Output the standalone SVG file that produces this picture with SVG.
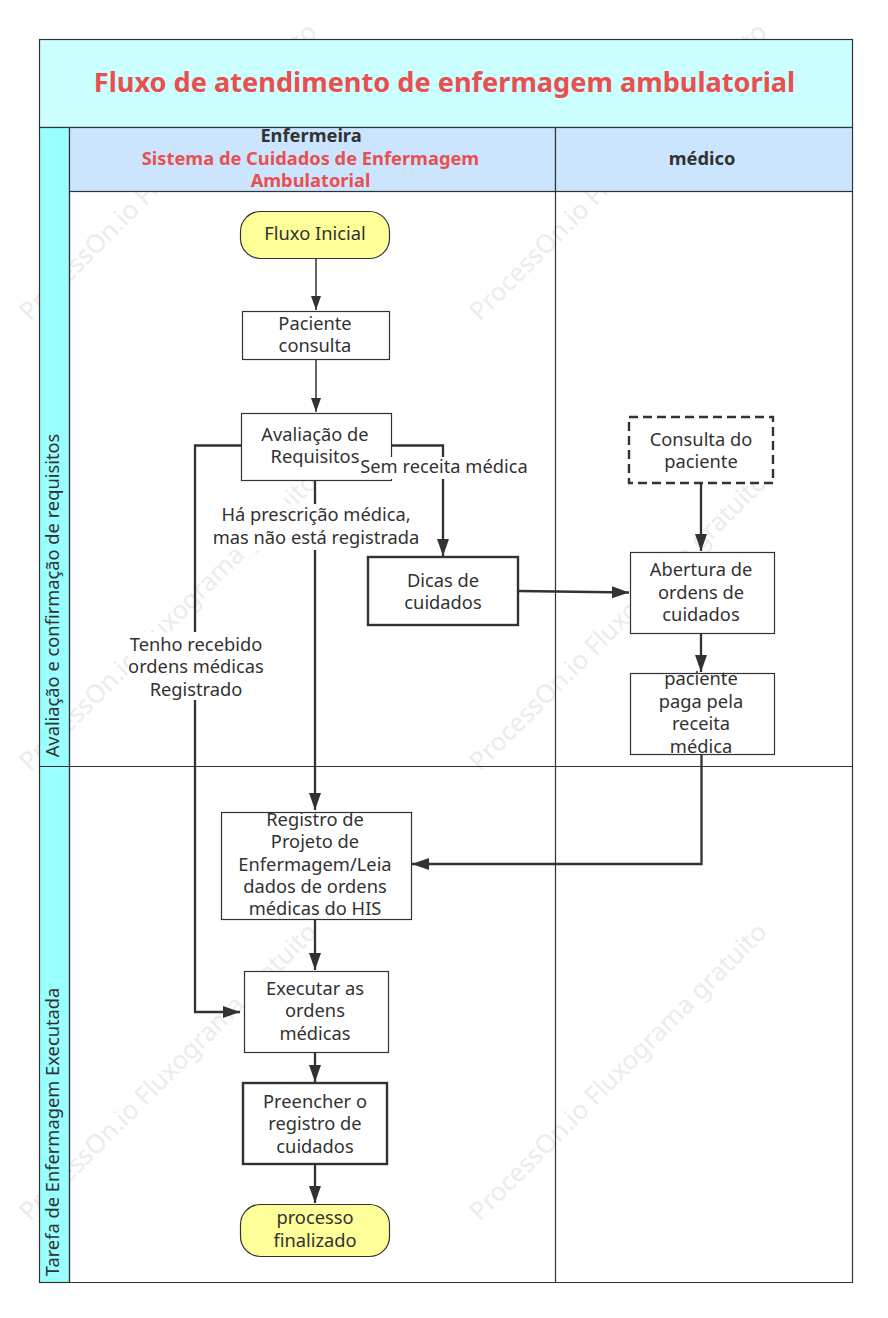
<svg xmlns="http://www.w3.org/2000/svg" width="888" height="1318" viewBox="0 0 888 1318">
<defs>
<marker id="arr" markerUnits="userSpaceOnUse" markerWidth="17" markerHeight="13" refX="17" refY="6.500" orient="auto" viewBox="0 0 17 13"><path d="M0 0.500L17 6.500L0 12.500Z" fill="#323232"/></marker>
<marker id="arrs" markerUnits="userSpaceOnUse" markerWidth="14" markerHeight="11" refX="14" refY="5.500" orient="auto" viewBox="0 0 14 11"><path d="M0 0.500L14 5.500L0 10.500Z" fill="#323232"/></marker>
</defs>
<style>
text{font-family:"Noto Sans","Open Sans","Liberation Sans",sans-serif;font-size:18.300px;fill:#323232;text-anchor:middle}
.wm{font-size:25.500px;fill:#ececec;text-anchor:start}
.lane{fill:none;stroke:#323232;stroke-width:1.200}
.b{fill:#fff;stroke:#323232;stroke-width:1.200}
.bb{fill:#fff;stroke:#323232;stroke-width:2.400}
.t{fill:#ffff99;stroke:#323232;stroke-width:1.200}
.c{fill:none;stroke:#323232;stroke-width:2.300;marker-end:url(#arr)}
.c1{fill:none;stroke:#323232;stroke-width:1.500;marker-end:url(#arrs)}
.lb{fill:#fff}
.h{font-weight:700}
.r{fill:#e94f4f;font-weight:700}
</style>
<g id="watermarks">
<text class="wm" transform="translate(30 322) rotate(-45)">ProcessOn.io Fluxograma gratuito</text>
<text class="wm" transform="translate(480 322) rotate(-45)">ProcessOn.io Fluxograma gratuito</text>
<text class="wm" transform="translate(30 772) rotate(-45)">ProcessOn.io Fluxograma gratuito</text>
<text class="wm" transform="translate(480 772) rotate(-45)">ProcessOn.io Fluxograma gratuito</text>
<text class="wm" transform="translate(30 1222) rotate(-45)">ProcessOn.io Fluxograma gratuito</text>
<text class="wm" transform="translate(480 1222) rotate(-45)">ProcessOn.io Fluxograma gratuito</text>
</g>
<g id="title">
<rect x="39.500" y="39.500" width="813" height="88" fill="#ccffff" stroke="#323232" stroke-width="1.200"/>
<text x="444.500" y="92" class="r" style="font-size:27.150px">Fluxo de atendimento de enfermagem ambulatorial</text>
</g>
<g id="swimlane">
<rect x="39.500" y="127.500" width="30" height="1155" fill="#99ffff" stroke="#323232" stroke-width="1.200"/>
<rect x="69.500" y="127.500" width="486" height="64" fill="#cce5ff" stroke="#323232" stroke-width="1.200"/>
<rect x="555.500" y="127.500" width="297" height="64" fill="#cce5ff" stroke="#323232" stroke-width="1.200"/>
<path class="lane" d="M69.500 191.500V1282.500H852.500V191.500M555.500 191.500V1282.500M39.500 766.500H852.500M39.500 1282.500H69.500"/>
<text x="311" y="142" class="h">Enfermeira</text>
<text x="310.500" y="165" class="r">Sistema de Cuidados de Enfermagem</text>
<text x="310.500" y="187" class="r">Ambulatorial</text>
<text x="702" y="165" class="h">médico</text>
<text transform="translate(59 595.500) rotate(-90)">Avaliação e confirmação de requisitos</text>
<text transform="translate(59 1132) rotate(-90)">Tarefa de Enfermagem Executada</text>
</g>
<g id="connectors">
<path class="c1" d="M316 259V310"/>
<path class="c1" d="M316 360V412"/>
<path class="c" d="M391 445.500H443V556"/>
<path class="c" d="M315 481V810"/>
<path class="c" d="M241 445.500H195V1012H240"/>
<path class="c" d="M519 591L629 592.500"/>
<path class="c" d="M701 484V551"/>
<path class="c" d="M701 634V672"/>
<path class="c" d="M701.500 755V864H412"/>
<path class="c" d="M315 920V970"/>
<path class="c" d="M315 1053V1082"/>
<path class="c" d="M315 1165V1203"/>
</g>
<g id="n-start"><rect class="t" x="240.500" y="211.500" width="149" height="47" rx="20"/><text x="315" y="239.500">Fluxo Inicial</text></g>
<g id="n-paciente"><rect class="b" x="242.500" y="311.500" width="147" height="48"/><text x="315" y="330">Paciente</text><text x="315" y="352">consulta</text></g>
<g id="n-avaliacao"><rect class="b" x="241.500" y="413.500" width="150" height="67"/><text x="315" y="441">Avaliação de</text><text x="315" y="463">Requisitos</text></g>
<g id="n-dicas"><rect class="bb" x="368" y="557" width="150" height="68"/><text x="443" y="587">Dicas de</text><text x="443" y="609">cuidados</text></g>
<g id="n-consulta"><rect fill="#fff" stroke="#323232" stroke-width="2.400" stroke-dasharray="9 5" x="629" y="417" width="144" height="66"/><text x="701" y="446">Consulta do</text><text x="701" y="468">paciente</text></g>
<g id="n-abertura"><rect class="b" x="630.500" y="552.500" width="144" height="81"/><text x="701" y="576">Abertura de</text><text x="701" y="598.500">ordens de</text><text x="701" y="621">cuidados</text></g>
<g id="n-paga"><rect class="b" x="630.500" y="673.500" width="144" height="81"/><text x="701" y="685">paciente</text><text x="701" y="708">paga pela</text><text x="701" y="730">receita</text><text x="701" y="753">médica</text></g>
<g id="n-registro"><rect class="b" x="221.500" y="812.500" width="190" height="107"/><text x="315" y="825.500">Registro de</text><text x="315" y="848">Projeto de</text><text x="315" y="870.500">Enfermagem/Leia</text><text x="315" y="893">dados de ordens</text><text x="315" y="915">médicas do HIS</text></g>
<g id="n-executar"><rect class="b" x="244.500" y="971.500" width="144" height="81"/><text x="315" y="995">Executar as</text><text x="315" y="1017">ordens</text><text x="315" y="1040">médicas</text></g>
<g id="n-preencher"><rect class="bb" x="243" y="1083" width="144" height="81"/><text x="315" y="1107.500">Preencher o</text><text x="315" y="1130">registro de</text><text x="315" y="1152.500">cuidados</text></g>
<g id="n-end"><rect class="t" x="240.500" y="1204.500" width="149" height="52" rx="20"/><text x="315" y="1224">processo</text><text x="315" y="1247">finalizado</text></g>
<g id="labels">
<rect class="lb" x="360" y="457" width="168" height="22"/>
<text x="444" y="473">Sem receita médica</text>
<rect class="lb" x="213" y="504" width="205" height="46"/>
<text x="316" y="521">Há prescrição médica,</text>
<text x="316" y="544">mas não está registrada</text>
<rect class="lb" x="128" y="632" width="136" height="68"/>
<text x="196" y="651">Tenho recebido</text>
<text x="196" y="673">ordens médicas</text>
<text x="196" y="696">Registrado</text>
</g>
</svg>
